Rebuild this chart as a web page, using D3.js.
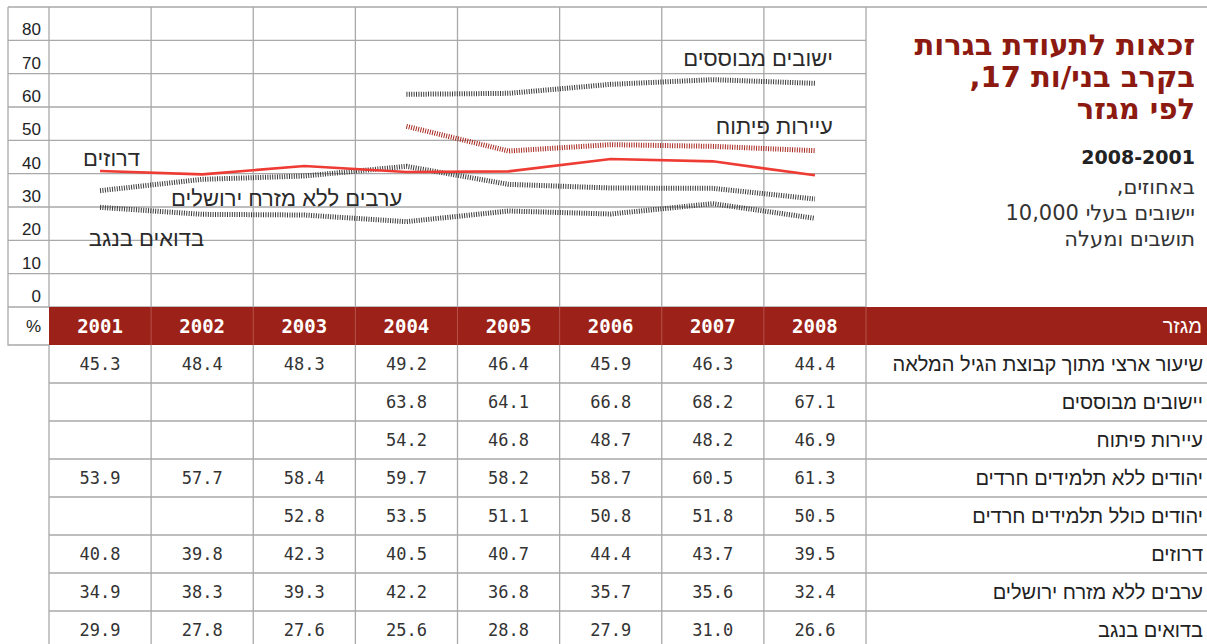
<!DOCTYPE html>
<html><head><meta charset="utf-8">
<script src="https://cdn.jsdelivr.net/npm/d3@7"></script>
<style>
html,body{margin:0;padding:0;background:#fff;}
svg{display:block;}
</style></head>
<body>
<svg id="c" width="1207" height="644"></svg>
<script>
// ---- data ----
const years = ["2001","2002","2003","2004","2005","2006","2007","2008"];
const yTicks = [0,10,20,30,40,50,60,70,80];
const rowLabels = [
  "שיעור ארצי מתוך קבוצת הגיל המלאה",
  "יישובים מבוססים",
  "עיירות פיתוח",
  "יהודים ללא תלמידים חרדים",
  "יהודים כולל תלמידים חרדים",
  "דרוזים",
  "ערבים ללא מזרח ירושלים",
  "בדואים בנגב"
];
const national      = [45.3,48.4,48.3,49.2,46.4,45.9,46.3,44.4];
const established   = [null,null,null,63.8,64.1,66.8,68.2,67.1];
const development   = [null,null,null,54.2,46.8,48.7,48.2,46.9];
const jewsNoHaredi  = [53.9,57.7,58.4,59.7,58.2,58.7,60.5,61.3];
const jewsWithHaredi= [null,null,52.8,53.5,51.1,50.8,51.8,50.5];
const druze         = [40.8,39.8,42.3,40.5,40.7,44.4,43.7,39.5];
const arabs         = [34.9,38.3,39.3,42.2,36.8,35.7,35.6,32.4];
const bedouin       = [29.9,27.8,27.6,25.6,28.8,27.9,31.0,26.6];
const tableRows = [national, established, development, jewsNoHaredi, jewsWithHaredi, druze, arabs, bedouin];

const titleLines = ["זכאות לתעודת בגרות", "בקרב בני/ות 17,", "לפי מגזר"];
const subBold = "2008-2001";
const subLines = ["באחוזים,", "יישובים בעלי 10,000", "תושבים ומעלה"];
const headerLabel = "מגזר";

// ---- layout ----
const svg = d3.select("#c");
const L = 8, X0 = 49, X1 = 866, R = 1207, TOP = 7, BASE = 307, HEAD = 38, ROWH = 38;
const x = d3.scaleBand().domain(years).range([X0, X1]).padding(0);
const y = d3.scaleLinear().domain([0, 90]).range([BASE, TOP]);
const bw = x.bandwidth();
const cx = yr => x(yr) + bw / 2;
const grid = "#a9a9a9";
const rtl = s => "\u202B" + s + "\u202C";
const heb = "'Liberation Sans', Arial, sans-serif";
const hebWide = "'DejaVu Sans', sans-serif";
const mono = "'DejaVu Sans Mono', monospace";

// chart grid
const g = svg.append("g");
[...yTicks, 90].forEach(v => {
  g.append("line").attr("x1", L).attr("x2", v === 90 ? R : X1)
    .attr("y1", y(v)).attr("y2", y(v)).attr("stroke", grid).attr("stroke-width", 1.3);
});
const vx = [L, ...years.map(yr => x(yr)), X1];
vx.forEach(xx => {
  g.append("line").attr("x1", xx).attr("x2", xx).attr("y1", y(90)).attr("y2", y(0))
    .attr("stroke", grid).attr("stroke-width", 1.3);
});
yTicks.forEach(v => {
  g.append("text").attr("x", X0 - 8).attr("y", y(v) - 5).attr("text-anchor", "end")
    .attr("font-family", heb).attr("font-size", 17).attr("fill", "#222").text(v);
});

// lines
const line = d3.line().defined(d => d.v != null).x(d => cx(d.yr)).y(d => y(d.v));
const mk = arr => years.map((yr, i) => ({yr, v: arr[i]}));
const series = [
  {data: established, color: "#3a3a3a", hatch: true},
  {data: development, color: "#a8271f", hatch: true},
  {data: arabs, color: "#3a3a3a", hatch: true},
  {data: bedouin, color: "#3a3a3a", hatch: true},
  {data: druze, color: "#ee3b33", hatch: false}
];
series.forEach(s => {
  g.append("path").datum(mk(s.data)).attr("d", line).attr("fill", "none")
    .attr("stroke", s.color)
    .attr("stroke-width", s.hatch ? 5 : 2.6)
    .attr("stroke-dasharray", s.hatch ? "1,1.4" : null);
});

// series labels (anchored via scales)
const seriesLabels = [
  {t: "ישובים מבוססים", yr: "2008", dx: 18, v: 72.4},
  {t: "עיירות פיתוח", yr: "2008", dx: 18, v: 52.0},
  {t: "דרוזים", yr: "2001", dx: 40, v: 42.2},
  {t: "ערבים ללא מזרח ירושלים", yr: "2004", dx: -4, v: 30.3},
  {t: "בדואים בנגב", yr: "2002", dx: 2, v: 18.3}
];
seriesLabels.forEach(l => {
  g.append("text").attr("x", cx(l.yr) + l.dx).attr("y", y(l.v)).attr("text-anchor", "end")
    .attr("font-family", heb).attr("font-size", 22).attr("fill", "#2a2a2a").text(l.t);
});

// title
titleLines.forEach((t, i) => {
  svg.append("text").attr("x", 1195).attr("y", 55 + i * 32).attr("text-anchor", "end")
    .attr("font-family", hebWide).attr("font-weight", "bold").attr("font-size", 29)
    .attr("fill", "#8c1a10").text(rtl(t));
});
svg.append("text").attr("x", 1195).attr("y", 164).attr("text-anchor", "end")
  .attr("font-family", hebWide).attr("font-weight", "bold").attr("font-size", 19)
  .attr("fill", "#222").text(subBold);
subLines.forEach((t, i) => {
  svg.append("text").attr("x", 1195).attr("y", 194 + i * 26).attr("text-anchor", "end")
    .attr("font-family", hebWide).attr("font-size", 21).attr("fill", "#333").text(rtl(t));
});

// ---- table ----
const t = svg.append("g");
t.append("rect").attr("x", X0).attr("y", BASE).attr("width", R - X0).attr("height", HEAD).attr("fill", "#9c2219");
t.append("path").attr("d", `M${L},${BASE}V${BASE + HEAD}H${X0}`).attr("fill", "none").attr("stroke", grid).attr("stroke-width", 1.3);
t.append("text").attr("x", X0 - 8).attr("y", BASE + 25).attr("text-anchor", "end")
  .attr("font-family", heb).attr("font-size", 17).attr("fill", "#222").text("%");
years.slice(1).concat(["__end"]).forEach((yr) => {
  const xx = yr === "__end" ? X1 : x(yr);
  t.append("line").attr("x1", xx).attr("x2", xx).attr("y1", BASE).attr("y2", BASE + HEAD)
    .attr("stroke", "#b5504a").attr("stroke-width", 1);
});
years.forEach(yr => {
  t.append("text").attr("x", cx(yr)).attr("y", BASE + 26).attr("text-anchor", "middle")
    .attr("font-family", mono).attr("font-weight", "bold").attr("font-size", 19)
    .attr("fill", "#fff").text(yr);
});
t.append("text").attr("x", R - 5).attr("y", BASE + 26).attr("text-anchor", "end")
  .attr("font-family", heb).attr("font-size", 20).attr("fill", "#fff").text(headerLabel);

const rowTop = i => BASE + HEAD + i * ROWH;
tableRows.forEach((row, i) => {
  t.append("line").attr("x1", X0).attr("x2", R).attr("y1", rowTop(i + 1)).attr("y2", rowTop(i + 1))
    .attr("stroke", grid).attr("stroke-width", 1.3);
});
[...years.map(yr => x(yr)), X1].forEach(xx => {
  t.append("line").attr("x1", xx).attr("x2", xx).attr("y1", BASE + HEAD).attr("y2", 644)
    .attr("stroke", grid).attr("stroke-width", 1.3);
});
tableRows.forEach((row, i) => {
  row.forEach((v, j) => {
    if (v == null) return;
    t.append("text").attr("x", cx(years[j])).attr("y", rowTop(i) + 25).attr("text-anchor", "middle")
      .attr("font-family", mono).attr("font-size", 17).attr("fill", "#333").text(v.toFixed(1));
  });
  t.append("text").attr("x", R - 4).attr("y", rowTop(i) + 26).attr("text-anchor", "end")
    .attr("font-family", heb).attr("font-size", 20).attr("fill", "#222").text(rowLabels[i]);
});
</script>
</body></html>
